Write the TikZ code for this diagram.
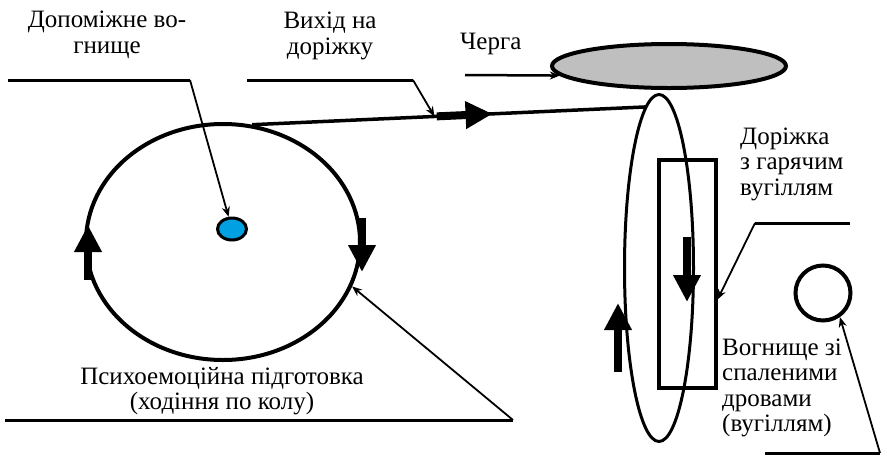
\documentclass[tikz,border=0pt]{standalone}
\usepackage{fontspec}
\setmainfont{Liberation Serif}
\newfontfamily\labelfont{Liberation Serif}
\usetikzlibrary{positioning,arrows.meta,calc,shapes.geometric}
\definecolor{fireblue}{HTML}{00A0E3}

\begin{document}
\begin{tikzpicture}[x=1pt,y=-1pt,
  lbl/.style={font=\labelfont\fontsize{25}{25.5}\selectfont, inner sep=0pt},
  leader/.style={line width=3pt},
  pointer/.style={line width=1.8pt, -{Stealth[length=10pt,width=8pt]}},
  flow/.style={line width=8pt, -{Triangle[length=27pt,width=26pt]}},
  outline/.style={draw, line width=4pt, inner sep=0pt}]
\useasboundingbox (0,0) rectangle (887,456);

% Walking circle with the auxiliary fire
\node[outline, ellipse, minimum width=274pt, minimum height=236pt] (circuit) at (223,242) {};
\node[outline, ellipse, line width=3pt, fill=fireblue, minimum width=29pt, minimum height=22pt] (aux) at (232,229) {};
\draw[flow] (88,280) -- (88,225);
\draw[flow] (362,218) -- (362,272);

% Queue, track loop and the coal strip
\node[outline, ellipse, fill=black!25, minimum width=234pt, minimum height=44pt] (queue) at (669,66) {};
\node[outline, ellipse, line width=3pt, minimum width=69pt, minimum height=347pt] (loop) at (659,268) {};
\node[outline, rectangle, minimum width=57pt, minimum height=228pt] (coals) at (687,274) {};
\draw[flow] (687,237) -- (687,302);
\draw[flow] (618,372) -- (618,303);

% Burnt-out fire
\node[outline, circle, minimum size=55pt] (pit) at (823,293) {};

% Way out to the track
\draw[line width=3.5pt] (circuit.76) -- (loop.95);
\coordinate (exitpt) at ($(circuit.76)!0.464!(loop.95)$);
\draw[flow] ($(circuit.76)!0.47!(loop.95)$) -- ($(circuit.76)!0.612!(loop.95)$);

% Labels
\node[lbl, align=center] (auxlbl) at (107,35) {Допоміжне во-\\гнище};
\node[lbl, align=center] (exitlbl) at (330,36) {Вихід на\\доріжку};
\node[lbl, anchor=base west] (queuelbl) at (460,49) {Черга};
\node[lbl, align=left, anchor=west] (tracklbl) at (740,164) {Доріжка\\з гарячим\\вугіллям};
\node[lbl, align=left, anchor=west] (pitlbl) at (722,388) {Вогнище зі\\спаленими\\дровами\\(вугіллям)};
\node[lbl, align=center] (preplbl) at (222,391) {Психоемоційна підготовка\\(ходіння по колу)};

% Leader lines
\coordinate (auxA) at (8,80);
\coordinate (auxB) at (190,80);
\draw[leader] (auxA) -- (auxB);
\draw[pointer] (auxB) -- (aux);

\coordinate (exitA) at (247,80);
\coordinate (exitB) at (413,80);
\draw[leader] (exitA) -- (exitB);
\draw[pointer] (exitB) -- (exitpt);

\coordinate (queueA) at (465,75);
\draw[pointer, line width=2.5pt] (queueA) -- (queue.185);

\coordinate (trackA) at (850,223);
\coordinate (trackB) at (755,223);
\draw[leader] (trackA) -- (trackB);
\draw[pointer] (trackB) -- (coals.-40);

\coordinate (pitA) at (765,453);
\coordinate (pitB) at (880,453);
\draw[leader] (pitA) -- (pitB);
\draw[pointer] (pitB) -- (pit.-55);

\coordinate (prepA) at (5,420);
\coordinate (prepB) at (513,420);
\draw[leader] (prepA) -- (prepB);
\draw[pointer] (prepB) -- (circuit.-19);
\end{tikzpicture}
\end{document}
